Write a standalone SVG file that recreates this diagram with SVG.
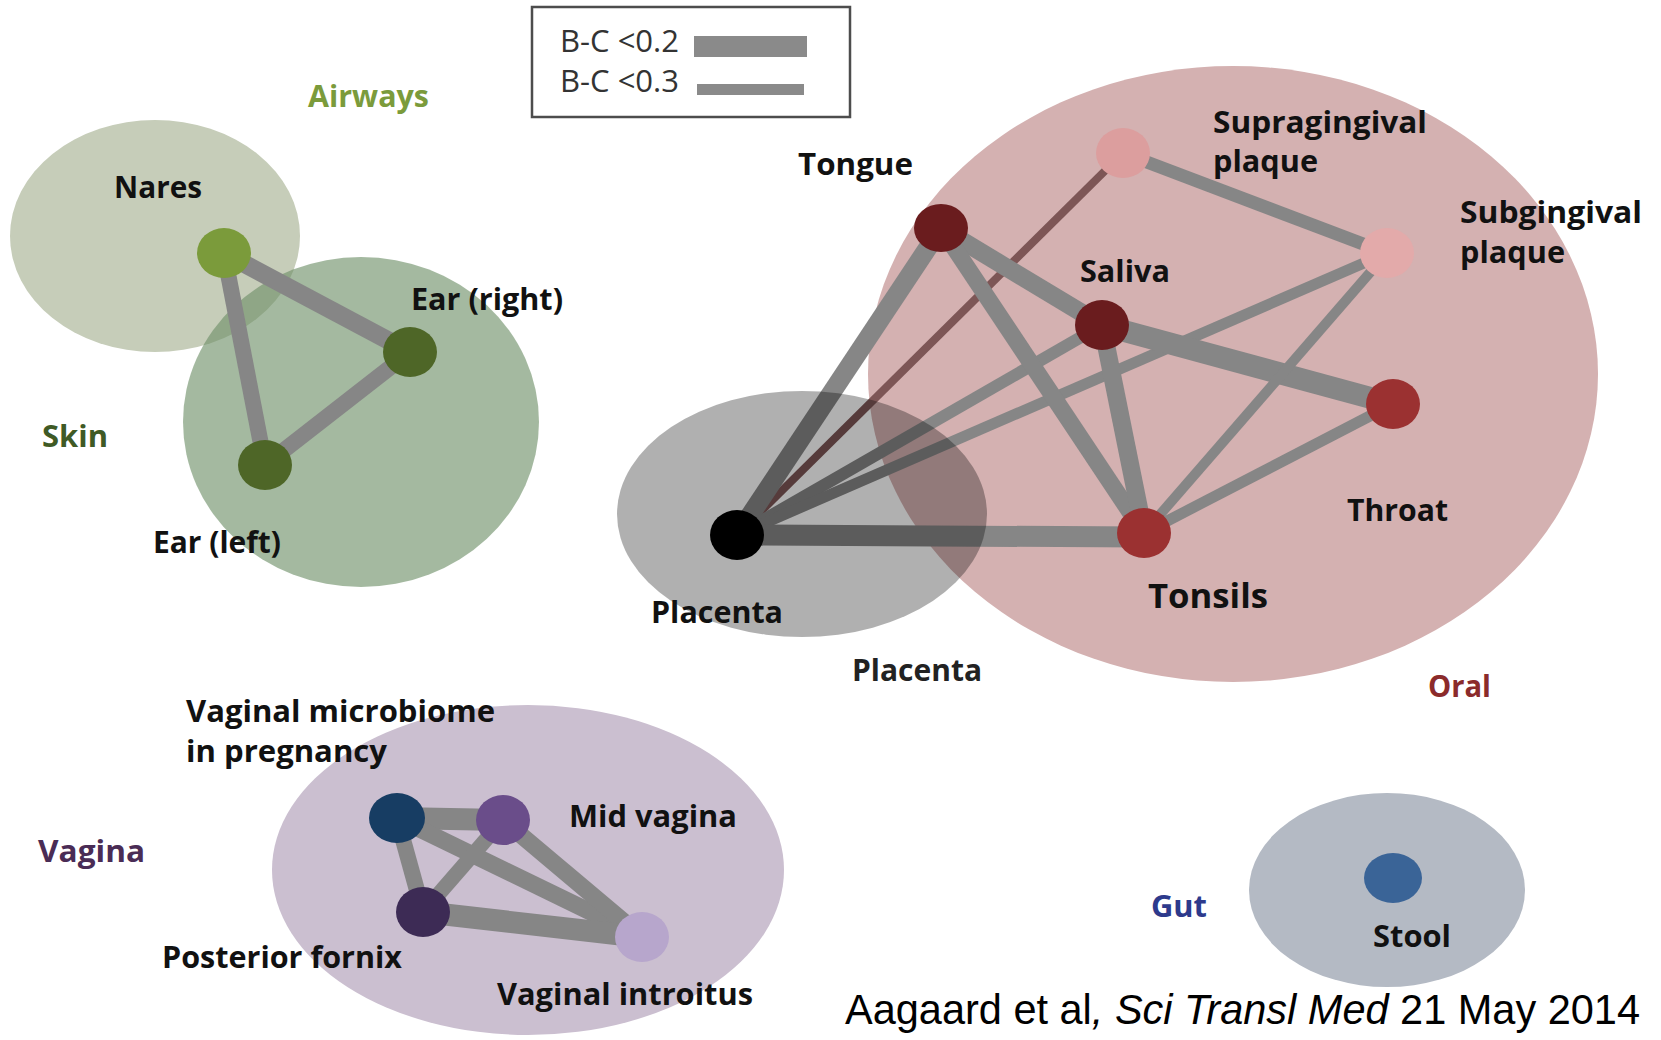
<svg xmlns="http://www.w3.org/2000/svg" width="1661" height="1040" viewBox="0 0 1661 1040">
<style>
.lbl{font-family:"Open Sans","Noto Sans","DejaVu Sans",sans-serif;font-weight:bold;font-size:31px;fill:#111}
.leg{font-family:"Open Sans","Noto Sans","DejaVu Sans",sans-serif;font-size:31px;fill:#333}
.cite{font-family:"Liberation Sans",Arial,sans-serif;font-size:42px;fill:#000}
.e{stroke:#868686;stroke-linecap:butt;fill:none}
</style>
<rect width="1661" height="1040" fill="#fff"/>
<g id="regions">
<ellipse id="region-airways" cx="155" cy="236" rx="145" ry="116" fill="#c6cdb9"/>
<ellipse id="region-skin" cx="361" cy="422" rx="178" ry="165" fill="rgb(109,143,103)" fill-opacity="0.625"/>
<ellipse id="region-oral" cx="1233" cy="374" rx="365" ry="308" fill="#d4b1b1"/>
<ellipse id="region-vagina" cx="528" cy="870" rx="256" ry="165" fill="#cbbfd0"/>
<ellipse id="region-gut" cx="1387" cy="890" rx="138" ry="97" fill="#b4bac4"/>
</g>
<g id="legend">
<rect x="532" y="7" width="318" height="110" fill="#fff" stroke="#4d4d4d" stroke-width="2.5"/>
<text class="leg" x="560" y="52" textLength="119" lengthAdjust="spacingAndGlyphs">B-C &lt;0.2</text>
<text class="leg" x="560" y="92" textLength="119" lengthAdjust="spacingAndGlyphs">B-C &lt;0.3</text>
<rect x="694" y="36" width="113" height="21" fill="#8a8a8a"/>
<rect x="697" y="84" width="107" height="11" fill="#8a8a8a"/>
</g>
<g id="connectors">
<line class="e" x1="224" y1="253" x2="410" y2="352" stroke-width="18"/>
<line class="e" x1="224" y1="253" x2="265" y2="465" stroke-width="16"/>
<line class="e" x1="265" y1="465" x2="410" y2="352" stroke-width="16"/>
<line class="e" x1="737" y1="535" x2="1123" y2="153" stroke-width="8" style="stroke:#7d5656"/>
<line class="e" x1="737" y1="535" x2="941" y2="228" stroke-width="19"/>
<line class="e" x1="737" y1="535" x2="1102" y2="325" stroke-width="12"/>
<line class="e" x1="737" y1="535" x2="1387" y2="253" stroke-width="11"/>
<line class="e" x1="737" y1="535" x2="1144" y2="537" stroke-width="21"/>
<line class="e" x1="941" y1="228" x2="1102" y2="325" stroke-width="18"/>
<line class="e" x1="941" y1="228" x2="1144" y2="533" stroke-width="17"/>
<line class="e" x1="1102" y1="325" x2="1393" y2="404" stroke-width="22"/>
<line class="e" x1="1102" y1="325" x2="1144" y2="533" stroke-width="18"/>
<line class="e" x1="1123" y1="153" x2="1387" y2="253" stroke-width="13"/>
<line class="e" x1="1387" y1="253" x2="1144" y2="533" stroke-width="10"/>
<line class="e" x1="1393" y1="404" x2="1144" y2="533" stroke-width="11"/>
<line class="e" x1="397" y1="818" x2="503" y2="820" stroke-width="22"/>
<line class="e" x1="397" y1="818" x2="423" y2="912" stroke-width="16"/>
<line class="e" x1="397" y1="818" x2="642" y2="937" stroke-width="17"/>
<line class="e" x1="503" y1="820" x2="423" y2="912" stroke-width="15"/>
<line class="e" x1="503" y1="820" x2="642" y2="937" stroke-width="17"/>
<line class="e" x1="423" y1="912" x2="642" y2="937" stroke-width="22"/>
</g>
<ellipse id="region-placenta" cx="802" cy="514" rx="185" ry="123" fill="#000" fill-opacity="0.31"/>
<g id="group-labels">
<text class="lbl" x="308" y="107" textLength="121" lengthAdjust="spacingAndGlyphs" style="fill:#7b9b3b">Airways</text>
<text class="lbl" x="42" y="447" textLength="66" lengthAdjust="spacingAndGlyphs" style="fill:#3f5a25">Skin</text>
<text class="lbl" x="852" y="681" textLength="130" lengthAdjust="spacingAndGlyphs" style="fill:#222">Placenta</text>
<text class="lbl" x="1428" y="697" textLength="63" lengthAdjust="spacingAndGlyphs" style="fill:#8b2b2b">Oral</text>
<text class="lbl" x="38" y="862" textLength="107" lengthAdjust="spacingAndGlyphs" style="fill:#4a2c55">Vagina</text>
<text class="lbl" x="1151" y="917" textLength="56" lengthAdjust="spacingAndGlyphs" style="fill:#2d3a8c">Gut</text>
</g>
<g id="node-nares"><ellipse cx="224" cy="253" rx="27" ry="25" fill="#7b9b3b"/><text class="lbl" x="114" y="198" textLength="88" lengthAdjust="spacingAndGlyphs">Nares</text></g>
<g id="node-ear-right"><ellipse cx="410" cy="352" rx="27" ry="25" fill="#4e6627"/><text class="lbl" x="411" y="310" textLength="152" lengthAdjust="spacingAndGlyphs">Ear (right)</text></g>
<g id="node-ear-left"><ellipse cx="265" cy="465" rx="27" ry="25" fill="#4e6627"/><text class="lbl" x="153" y="553" textLength="128" lengthAdjust="spacingAndGlyphs">Ear (left)</text></g>
<g id="node-tongue"><ellipse cx="941" cy="228" rx="27" ry="24" fill="#6a1c1e"/><text class="lbl" x="798" y="175" textLength="115" lengthAdjust="spacingAndGlyphs">Tongue</text></g>
<g id="node-supragingival"><ellipse cx="1123" cy="153" rx="27" ry="25" fill="#dc9e9e"/><text class="lbl" x="1213" y="133" textLength="214" lengthAdjust="spacingAndGlyphs">Supragingival</text><text class="lbl" x="1213" y="172" textLength="105" lengthAdjust="spacingAndGlyphs">plaque</text></g>
<g id="node-subgingival"><ellipse cx="1387" cy="253" rx="27" ry="25" fill="#e3aaaa"/><text class="lbl" x="1460" y="223" textLength="182" lengthAdjust="spacingAndGlyphs">Subgingival</text><text class="lbl" x="1460" y="263" textLength="105" lengthAdjust="spacingAndGlyphs">plaque</text></g>
<g id="node-saliva"><ellipse cx="1102" cy="325" rx="27" ry="25" fill="#6a1c1e"/><text class="lbl" x="1080" y="282" textLength="90" lengthAdjust="spacingAndGlyphs">Saliva</text></g>
<g id="node-throat"><ellipse cx="1393" cy="404" rx="27" ry="25" fill="#9b3131"/><text class="lbl" x="1347" y="521" textLength="101" lengthAdjust="spacingAndGlyphs">Throat</text></g>
<g id="node-tonsils"><ellipse cx="1144" cy="533" rx="27" ry="25" fill="#9b3131"/><text class="lbl" x="1148" y="608" textLength="120" lengthAdjust="spacingAndGlyphs" style="font-size:34px">Tonsils</text></g>
<g id="node-placenta"><ellipse cx="737" cy="535" rx="27" ry="25" fill="#000"/><text class="lbl" x="651" y="623" textLength="132" lengthAdjust="spacingAndGlyphs">Placenta</text></g>
<g id="node-vaginal-pregnancy"><ellipse cx="397" cy="818" rx="28" ry="25" fill="#173d63"/><text class="lbl" x="186" y="722" textLength="309" lengthAdjust="spacingAndGlyphs">Vaginal microbiome</text><text class="lbl" x="186" y="762" textLength="201" lengthAdjust="spacingAndGlyphs">in pregnancy</text></g>
<g id="node-mid-vagina"><ellipse cx="503" cy="820" rx="27" ry="25" fill="#6a4d8a"/><text class="lbl" x="569" y="827" textLength="168" lengthAdjust="spacingAndGlyphs">Mid vagina</text></g>
<g id="node-posterior-fornix"><ellipse cx="423" cy="912" rx="27" ry="25" fill="#3d2b55"/><text class="lbl" x="162" y="968" textLength="240" lengthAdjust="spacingAndGlyphs">Posterior fornix</text></g>
<g id="node-vaginal-introitus"><ellipse cx="642" cy="937" rx="27" ry="25" fill="#b7a6cc"/><text class="lbl" x="497" y="1005" textLength="256" lengthAdjust="spacingAndGlyphs">Vaginal introitus</text></g>
<g id="node-stool"><ellipse cx="1393" cy="878" rx="29" ry="25" fill="#3a6497"/><text class="lbl" x="1373" y="947" textLength="78" lengthAdjust="spacingAndGlyphs">Stool</text></g>
<text class="cite" x="845" y="1024" textLength="795" lengthAdjust="spacingAndGlyphs">Aagaard et al<tspan font-style="italic">, Sci Transl Med</tspan> 21 May 2014</text>
</svg>
